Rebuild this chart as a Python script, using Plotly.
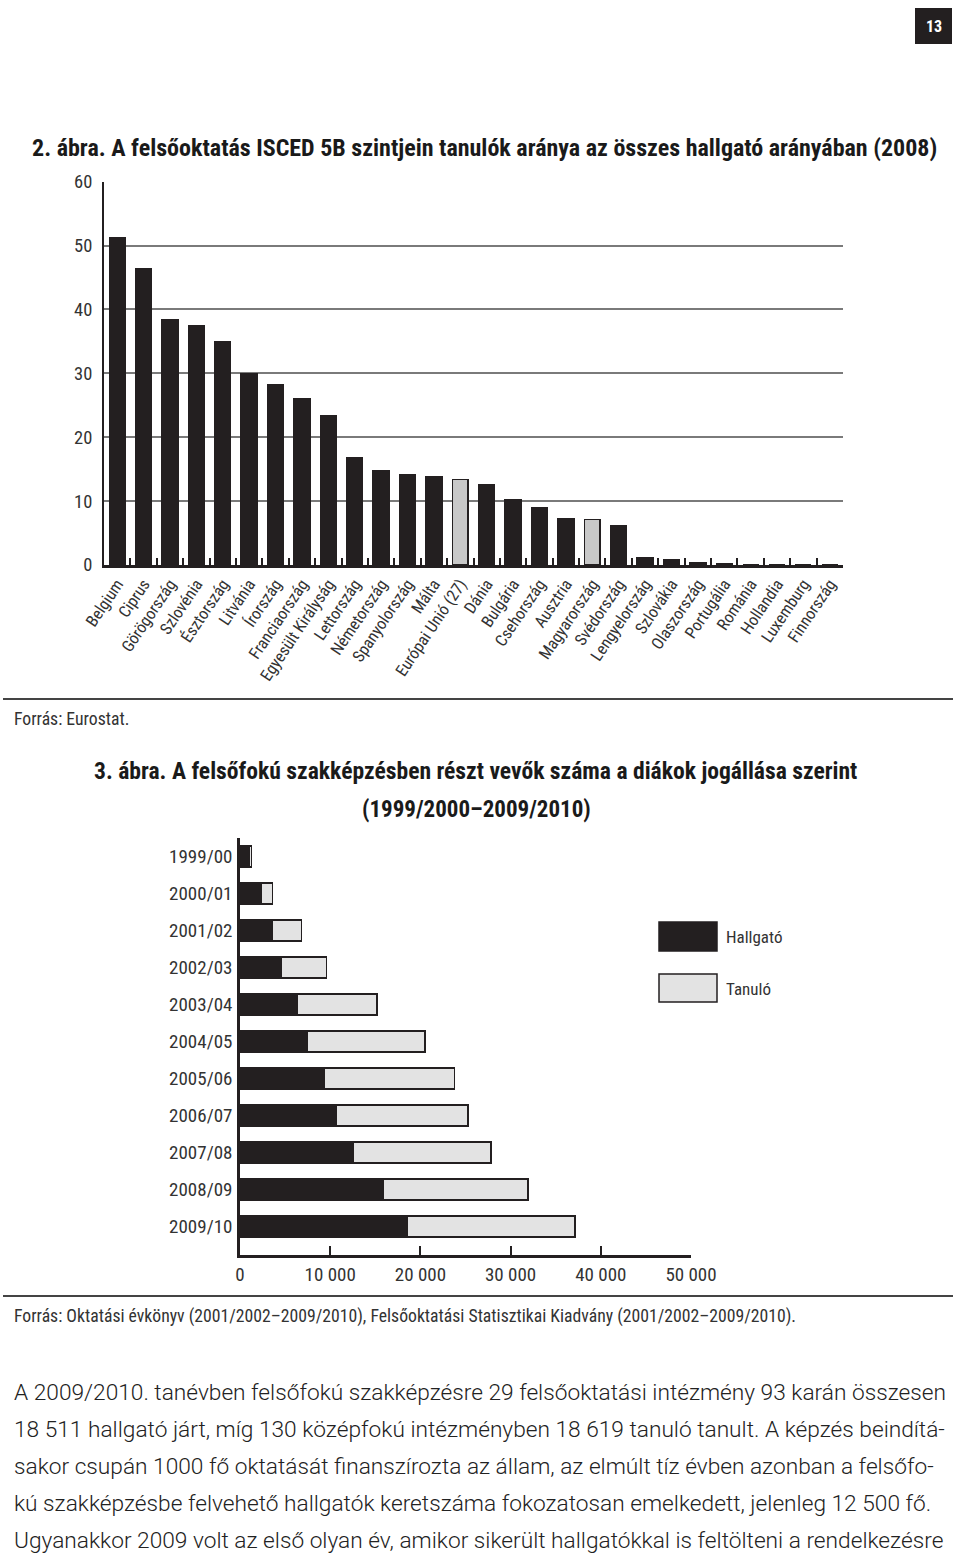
import plotly.graph_objects as go

W, H = 960, 1554

def X(px):
    return px / W

def Y(py):
    return 1 - py / H

FONT = "Liberation Sans Narrow, Roboto Condensed, Arial Narrow, Liberation Sans, sans-serif"
PFONT = "Roboto, Liberation Sans, Arial, sans-serif"
BLACK = "#231f20"
TXT = "#333333"

# ---------- data: chart 1 ----------
countries = ["Belgium", "Ciprus", "Görögország", "Szlovénia", "Észtország", "Litvánia",
             "Írország", "Franciaország", "Egyesült Királyság", "Lettország", "Németország",
             "Spanyolország", "Málta", "Európai Unió (27)", "Dánia", "Bulgária", "Csehország",
             "Ausztria", "Magyarország", "Svédország", "Lengyelország", "Szlovákia",
             "Olaszország", "Portugália", "Románia", "Hollandia", "Luxemburg", "Finnország"]
share_5b = [51.2, 46.4, 38.4, 37.5, 35.0, 30.0, 28.2, 26.0, 23.4, 16.8, 14.8, 14.1, 13.8,
            13.4, 12.5, 10.2, 8.9, 7.2, 7.1, 6.1, 1.1, 0.9, 0.4, 0.2, 0.0, 0.0, 0.0, 0.0]
highlight = ["Európai Unió (27)", "Magyarország"]

# ---------- data: chart 2 ----------
years = ["1999/00", "2000/01", "2001/02", "2002/03", "2003/04", "2004/05", "2005/06",
         "2006/07", "2007/08", "2008/09", "2009/10"]
hallgato = [1000, 2300, 3600, 4600, 6300, 7400, 9300, 10700, 12600, 15900, 18511]
tanulo = [300, 1300, 3200, 5000, 8900, 13100, 14500, 14550, 15250, 16050, 18619]
x2_ticks = [0, 10000, 20000, 30000, 40000, 50000]

colors1 = ["#c8c8c8" if c in highlight else BLACK for c in countries]

fig = go.Figure()
fig.add_trace(go.Bar(x=countries, y=share_5b, marker=dict(color=colors1, line=dict(color=BLACK, width=1.5)),
                     width=0.6, xaxis="x", yaxis="y", showlegend=False, hoverinfo="x+y"))
fig.add_trace(go.Bar(y=years, x=hallgato, orientation="h", name="Hallgató",
                     marker=dict(color=BLACK, line=dict(color=BLACK, width=1.5)),
                     width=0.57, xaxis="x2", yaxis="y2", showlegend=False))
fig.add_trace(go.Bar(y=years, x=tanulo, orientation="h", name="Tanuló",
                     marker=dict(color="#e3e3e3", line=dict(color=BLACK, width=1.5)),
                     width=0.57, xaxis="x2", yaxis="y2", showlegend=False))

row_px = 36.94
y2_bottom_extra = (1255 - (1226.7 + row_px / 2)) / row_px

fig.update_layout(
    width=W, height=H, margin=dict(l=0, r=0, t=0, b=0, pad=0, autoexpand=False),
    paper_bgcolor="white", plot_bgcolor="white",
    barmode="stack", separators=", ", showlegend=False,
    font=dict(family=FONT, color=TXT, size=16),
    xaxis=dict(domain=[X(104), X(843)], anchor="y", range=[-0.5, 27.5], automargin=False,
               showline=True, linecolor=BLACK, linewidth=3,
               ticks="inside", ticklen=7, tickwidth=2, tickcolor=BLACK, tickson="boundaries",
               tickangle=-56, tickfont=dict(size=16.5, color=TXT, family=FONT),
               showgrid=False, zeroline=False, fixedrange=True),
    yaxis=dict(domain=[Y(565), Y(181.7)], anchor="x", range=[0, 60], automargin=False,
               tickvals=[0, 10, 20, 30, 40, 50, 60],
               showline=True, linecolor=BLACK, linewidth=2,
               showgrid=True, gridcolor="#7a7a7a", gridwidth=1.5,
               ticks="", ticklabelstandoff=6,
               tickfont=dict(size=18.5, color=TXT, family=FONT), zeroline=False),
    xaxis2=dict(domain=[X(240), X(691)], anchor="y2", range=[0, 50000], automargin=False,
                tickvals=x2_ticks, tickformat=",d",
                showline=True, linecolor=BLACK, linewidth=2.5,
                ticks="inside", ticklen=9, tickwidth=2, tickcolor=BLACK,
                showgrid=False, zeroline=False, ticklabelstandoff=0,
                tickfont=dict(size=19, color=TXT, family=FONT)),
    yaxis2=dict(domain=[Y(1255), Y(838)], anchor="x2", type="category", automargin=False,
                range=[10.5 + y2_bottom_extra, -0.5],
                showline=True, linecolor=BLACK, linewidth=2.5,
                ticks="", showgrid=False, ticklabelstandoff=1,
                tickfont=dict(size=19, color=TXT, family=FONT)),
)

shapes = [
    # page number box
    dict(type="rect", xref="paper", yref="paper", x0=X(915), x1=X(952), y0=Y(44), y1=Y(8),
         fillcolor=BLACK, line=dict(width=0)),
    # rules
    dict(type="line", xref="paper", yref="paper", x0=X(3), x1=X(953), y0=Y(699), y1=Y(699),
         line=dict(color="#444444", width=2)),
    dict(type="line", xref="paper", yref="paper", x0=X(3), x1=X(953), y0=Y(1296), y1=Y(1296),
         line=dict(color="#444444", width=2)),
    # legend swatches
    dict(type="rect", xref="paper", yref="paper", x0=X(659), x1=X(717), y0=Y(951), y1=Y(922),
         fillcolor=BLACK, line=dict(color=BLACK, width=1.5)),
    dict(type="rect", xref="paper", yref="paper", x0=X(659), x1=X(717), y0=Y(1002), y1=Y(974),
         fillcolor="#e3e3e3", line=dict(color=BLACK, width=1.5)),
]

def ann(text, x, y, size, xanchor="left", bold=False, color=TXT, family=FONT, weight=None):
    t = f"<b>{text}</b>" if bold else text
    f = dict(size=size, color=color, family=family)
    if weight:
        f["weight"] = weight
    return dict(text=t, x=X(x), y=Y(y), xref="paper", yref="paper", xanchor=xanchor,
                yanchor="middle", showarrow=False, font=f)

annotations = [
    ann("13", 933.5, 26, 16, xanchor="center", bold=True, color="white"),
    ann("2. ábra. A felsőoktatás ISCED 5B szintjein tanulók aránya az összes hallgató arányában (2008)",
        30, 148, 24, bold=True, color="#1a1a1a"),
    ann("Forrás: Eurostat.", 12, 719, 17.7),
    ann("3. ábra. A felsőfokú szakképzésben részt vevők száma a diákok jogállása szerint",
        92, 771, 23.6, bold=True, color="#1a1a1a"),
    ann("(1999/2000–2009/2010)", 476, 809, 23, xanchor="center", bold=True, color="#1a1a1a"),
    ann("Hallgató", 724, 937, 17),
    ann("Tanuló", 724, 989, 17),
    ann("Forrás: Oktatási évkönyv (2001/2002–2009/2010), Felsőoktatási Statisztikai Kiadvány (2001/2002–2009/2010).",
        12, 1316, 17.7),
]

para = [
    "A 2009/2010. tanévben felsőfokú szakképzésre 29 felsőoktatási intézmény 93 karán összesen",
    "18 511 hallgató járt, míg 130 középfokú intézményben 18 619 tanuló tanult. A képzés beindítá-",
    "sakor csupán 1000 fő oktatását finanszírozta az állam, az elmúlt tíz évben azonban a felsőfo-",
    "kú szakképzésbe felvehető hallgatók keretszáma fokozatosan emelkedett, jelenleg 12 500 fő.",
    "Ugyanakkor 2009 volt az első olyan év, amikor sikerült hallgatókkal is feltölteni a rendelkezésre",
]
for i, line in enumerate(para):
    annotations.append(ann(line, 12, 1392 + 37 * i, 22.7, color="#222222", family=PFONT, weight=300))

fig.update_layout(shapes=shapes, annotations=annotations)
fig.write_html("out.html")
